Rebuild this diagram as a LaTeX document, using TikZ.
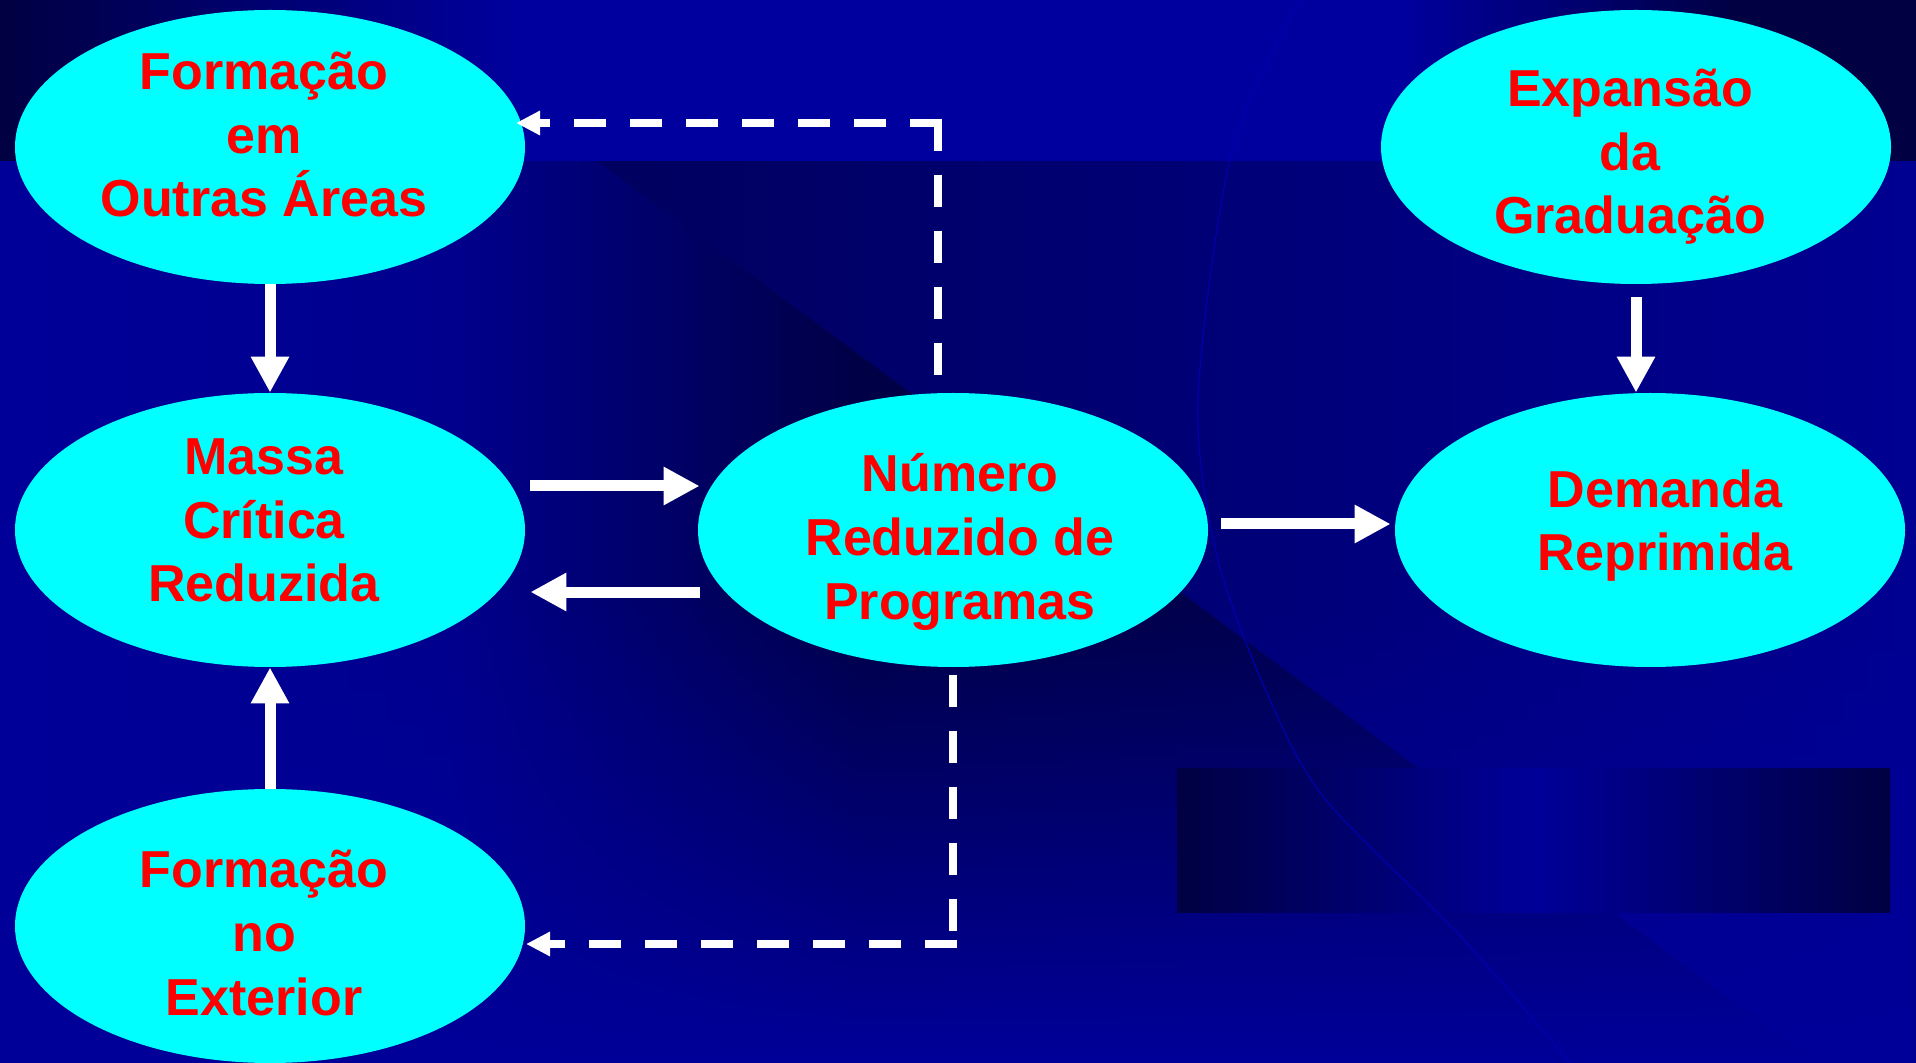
\documentclass[tikz,border=0pt]{standalone}
\usepackage{fontspec}
\setmainfont{Liberation Sans}
\usetikzlibrary{shapes.geometric,arrows.meta,fadings,calc}
\definecolor{bgblue}{RGB}{0,0,153}
\definecolor{bgmid}{RGB}{0,0,130}
\definecolor{bgdark}{RGB}{0,0,66}
\definecolor{bgdeep}{RGB}{0,0,70}
\definecolor{bandblue}{RGB}{0,0,158}
\definecolor{cyanfill}{RGB}{0,255,255}
\definecolor{txtred}{RGB}{255,0,0}
\definecolor{arcblue}{RGB}{0,0,175}
\tikzfading[name=fadeinbottom, top color=transparent!100, bottom color=transparent!0]
\begin{document}
\begin{tikzpicture}[x=0.5pt,y=-0.5pt,
  ell/.style={ellipse, fill=cyanfill, draw=none, minimum width=255pt, minimum height=137pt, inner sep=0pt},
  lbl/.style={text=txtred, font=\fontsize{26}{31.8}\selectfont\bfseries, align=center, anchor=base, inner sep=0pt},
  arr/.style={draw=white, line width=5.5pt, -{Triangle[length=18pt,width=18pt]}},
  dsh/.style={draw=white, line width=4pt, dash pattern=on 16pt off 12pt},
  dsharr/.style={dsh, -{Triangle[length=12pt,width=11.5pt]}}
]
\useasboundingbox (0,0) rectangle (1916,1063);
% ---------- background ----------
\fill[bgblue] (0,0) rectangle (1916,1063);
\shade[left color=bgdeep!70!bgblue, right color=bgblue!95!black] (597,161) rectangle (1916,1063);
\begin{scope}
  \clip (0,161) -- (597,161) -- (1817,1063) -- (0,1063) -- cycle;
  \shade[left color=bgblue, right color=bgblue!92!black] (0,161) rectangle (450,1063);
  \shade[left color=bgblue!92!black, right color=bgdeep] (450,161) rectangle (860,1063);
  \shade[left color=bgdeep, right color=bgdeep!80!bgblue] (860,161) rectangle (1817,1063);
\end{scope}
\fill[bgblue, path fading=fadeinbottom] (0,600) rectangle (1916,1063);
% top band
\shade[left color=bgdark, right color=bandblue] (0,0) rectangle (520,161);
\fill[bandblue] (520,0) rectangle (1400,161);
\shade[left color=bandblue, right color=bgdark] (1400,0) rectangle (1740,161);
\fill[bgdark] (1740,0) rectangle (1916,161);
% dark rectangle
\shade[left color=bgdark, right color=bgdark, middle color=bgblue] (1177,768) rectangle (1890,912);
% faint arc
\draw[arcblue, line width=0.6pt] plot[smooth] coordinates {(1300,0) (1232,150) (1198,400) (1218,560) (1270,700) (1326,800) (1464,940) (1570,1063)};
% ---------- nodes ----------
\node[ell] (fa) at (270,147) {};
\node[ell] (mc) at (270,530) {};
\node[ell] (fe) at (270,926) {};
\node[ell] (nr) at (953,530) {};
\node[ell] (ex) at (1636,147) {};
\node[ell] (dr) at (1650,530) {};
\node[lbl] (fa-t) at (264,217) {Formação\\em\\Outras Áreas};
\node[lbl] (mc-t) at (264,602) {Massa\\Crítica\\Reduzida};
\node[lbl] (fe-t) at (264,1015) {Formação\\no\\Exterior};
\node[lbl] (nr-t) at (960,619) {Número\\Reduzido de\\Programas};
\node[lbl] (ex-t) at (1630,234) {Expansão\\da\\Graduação};
\node[lbl] (dr-t) at (1665,571) {Demanda\\Reprimida};
% ---------- solid arrows ----------
\draw[arr] (fa) -- (mc);
\draw[arr] (fe) -- (mc);
\draw[arr] ([shift={(0,13)}]ex.south) -- (ex.south |- dr.north);
\draw[arr] ([shift={(5,-44)}]mc.east) -- ([shift={(2,-44)}]nr.west);
\draw[arr] ([shift={(2,62)}]nr.west) -- ([shift={(5,62)}]mc.east);
\draw[arr] ([shift={(13,-6)}]nr.east) -- ([shift={(-4,-6)}]dr.west);
% ---------- dashed arrows ----------
\coordinate (c1) at (938,123);
\coordinate (ta) at (516,123);
\coordinate (c2) at (953,944);
\coordinate (tb) at (526,944);
\draw[dsh] ([shift={(0,-4)}]c1) -- ($(nr.north -| c1)+(0,-15)$);
\draw[dsharr] ([shift={(4,0)}]c1) -- (ta);
\draw[dsh] ($(nr.south)+(0,8)$) -- (c2);
\draw[dsharr] ([shift={(4,0)}]c2) -- (tb);
\end{tikzpicture}
\end{document}
